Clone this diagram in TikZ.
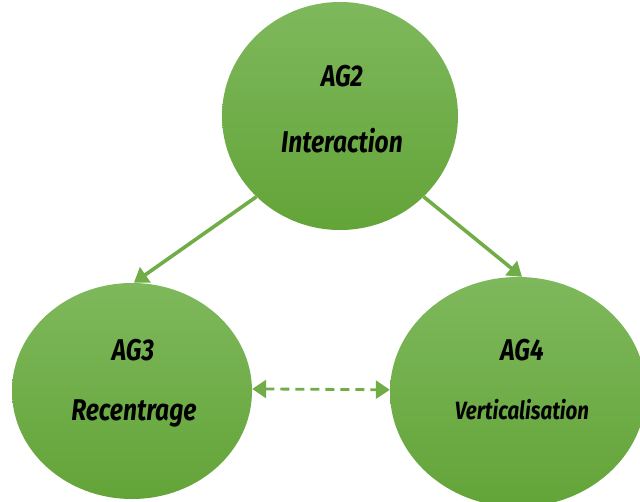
\documentclass[tikz,border=0pt]{standalone}
\usepackage{fontspec}
\setmainfont{Fira Sans}[FakeStretch=0.82]
\usetikzlibrary{shapes.geometric,arrows.meta}
\definecolor{gtop}{RGB}{126,184,92}
\definecolor{gbot}{RGB}{99,164,56}
\definecolor{garrow}{RGB}{112,173,71}
\tikzset{
  bubble/.style={ellipse, inner sep=0pt, top color=gtop, bottom color=gbot, draw=none},
  lbl/.style={font=\fontsize{30}{34}\selectfont\bfseries\itshape, text=black, inner sep=0pt, anchor=center},
  link/.style={draw=garrow, line width=3.6pt, -{Triangle[length=14pt,width=18pt]}},
  dlink/.style={draw=garrow, line width=2.8pt, dash pattern=on 9pt off 6pt, {Triangle[length=14pt,width=18pt]}-{Triangle[length=14pt,width=18pt]}}
}
\begin{document}
\begin{tikzpicture}[x=1pt,y=-1pt]
\useasboundingbox (0,0) rectangle (640,501);
\begin{scope}
\clip (0,0) rectangle (640,501);
\node[bubble, minimum width=236pt, minimum height=228pt] (ag2) at (340,116) {};
\node[bubble, minimum width=240pt, minimum height=216pt] (ag3) at (132,391) {};
\node[bubble, minimum width=256pt, minimum height=230pt] (ag4) at (518,392) {};
\end{scope}
\node[lbl] (t2a) at (342,76) {AG2};
\node[lbl] (t2b) at (342,141) {Interaction};
\node[lbl] (t3a) at (133,350) {AG3};
\node[lbl] (t3b) at (134,413) {Recentrage};
\node[lbl] (t4a) at (522,350) {AG4};
\node[lbl, font=\fontsize{25}{29}\selectfont\bfseries\itshape] (t4b) at (522,410) {Verticalisation};
\draw[link] (ag2.224) -- (ag3.89);
\draw[link] (ag2.316) -- (ag4.88);
\draw[dlink] (ag3.1) -- (ag4.179);
\end{tikzpicture}
\end{document}
